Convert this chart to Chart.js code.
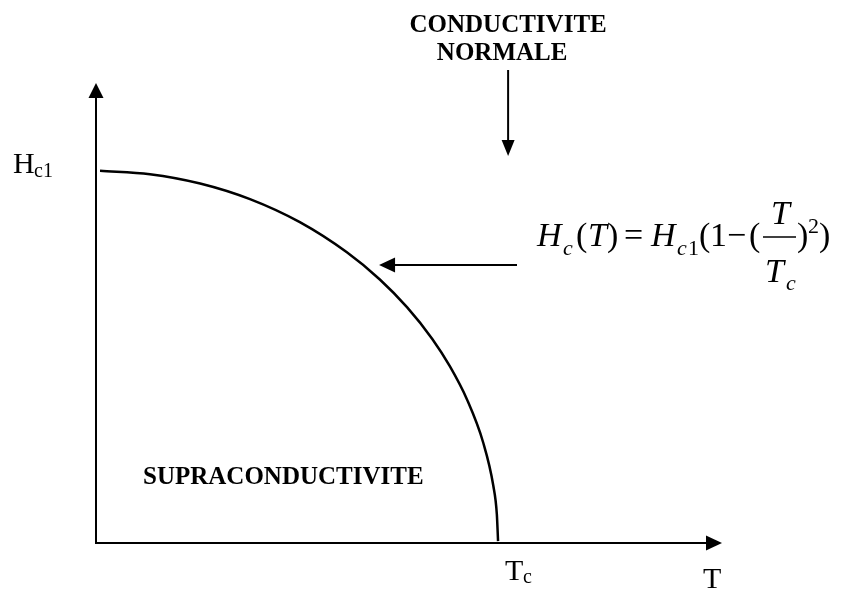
<!DOCTYPE html>
<html>
<head>
<meta charset="utf-8">
<script src="https://cdn.jsdelivr.net/npm/chart.js@4"></script>
<style>
    html, body { margin: 0; padding: 0; background: #fff; }
    #wrap { width: 841px; height: 589px; }
</style>
</head>
<body>
<div id="wrap"><canvas id="chart" width="841" height="589"></canvas></div>
<script>
// Curve H_c(T), normalised: T / Tc and H / Hc1
const tempT  = [0.01, 0.134, 0.259, 0.383, 0.507, 0.624, 0.706, 0.774, 0.836, 0.88, 0.923, 0.963, 0.988, 0.997, 1.0];
const fieldH = [1.0, 0.991, 0.966, 0.924, 0.862, 0.781, 0.708, 0.633, 0.549, 0.475, 0.385, 0.27, 0.155, 0.077, 0.005];

// Axis extents (arrow tips) and the two marked ticks
const axisMaxT = 1.557;
const axisMaxH = 1.236;
const tickT = 1;   // Tc
const tickH = 1;   // Hc1

const SERIF = '"Liberation Serif", "Times New Roman", serif';
const INK = '#000';

function arrowHead(ctx, x, y, dir, len, half) {
    // dir: 'up' | 'down' | 'left' | 'right'
    ctx.beginPath();
    if (dir === 'up') { ctx.moveTo(x, y); ctx.lineTo(x - half, y + len); ctx.lineTo(x + half, y + len); }
    if (dir === 'down') { ctx.moveTo(x, y); ctx.lineTo(x - half, y - len); ctx.lineTo(x + half, y - len); }
    if (dir === 'right') { ctx.moveTo(x, y); ctx.lineTo(x - len, y - half); ctx.lineTo(x - len, y + half); }
    if (dir === 'left') { ctx.moveTo(x, y); ctx.lineTo(x + len, y - half); ctx.lineTo(x + len, y + half); }
    ctx.closePath();
    ctx.fill();
}

function txt(ctx, s, x, y, font) {
    ctx.font = font;
    ctx.fillText(s, x, y);
}

const diagramPlugin = {
    id: 'diagram',
    afterDatasetsDraw(chart) {
        const ctx = chart.ctx;
        const xs = chart.scales.x, ys = chart.scales.y;
        const x0 = xs.getPixelForValue(0), y0 = ys.getPixelForValue(0);
        const xEnd = xs.getPixelForValue(axisMaxT), yEnd = ys.getPixelForValue(axisMaxH);
        ctx.save();
        ctx.fillStyle = INK;
        ctx.strokeStyle = INK;
        ctx.lineWidth = 2;
        ctx.textAlign = 'left';
        ctx.textBaseline = 'alphabetic';

        // axes with arrows
        ctx.beginPath();
        ctx.moveTo(x0, y0 + 1); ctx.lineTo(x0, yEnd + 10);
        ctx.moveTo(x0 - 1, y0); ctx.lineTo(xEnd - 10, y0);
        ctx.stroke();
        arrowHead(ctx, x0, yEnd, 'up', 15, 7.5);
        arrowHead(ctx, xEnd, y0, 'right', 16, 7.5);

        // tick labels
        const yH = ys.getPixelForValue(tickH);
        txt(ctx, 'H', 13, yH + 2, '30px ' + SERIF);
        txt(ctx, 'c1', 34, yH + 6, '20px ' + SERIF);
        const xT = xs.getPixelForValue(tickT);
        txt(ctx, 'T', xT + 7, y0 + 37, '30px ' + SERIF);
        txt(ctx, 'c', xT + 25, y0 + 40, '20px ' + SERIF);
        txt(ctx, 'T', xEnd - 19, y0 + 45, '30px ' + SERIF);

        // region labels
        ctx.textAlign = 'center';
        const xN = xs.getPixelForValue(1.025);
        txt(ctx, 'CONDUCTIVITE', xN, 32, 'bold 25px ' + SERIF);
        txt(ctx, 'NORMALE', xN - 6, 60, 'bold 25px ' + SERIF);
        ctx.textAlign = 'left';
        txt(ctx, 'SUPRACONDUCTIVITE', 143, 484, 'bold 25px ' + SERIF);

        // arrow down from "normal" label
        ctx.beginPath();
        ctx.moveTo(xN, 70); ctx.lineTo(xN, 145);
        ctx.stroke();
        arrowHead(ctx, xN, 156, 'down', 16, 6.5);

        // arrow pointing at the curve
        const ya = ys.getPixelForValue(0.747);
        const xa = xs.getPixelForValue(0.704);
        ctx.beginPath();
        ctx.moveTo(517, ya); ctx.lineTo(xa + 12, ya);
        ctx.stroke();
        arrowHead(ctx, xa, ya, 'left', 16, 7.5);

        // formula  H_c(T) = H_c1(1 - (T/T_c)^2)
        const b = 246, sb = 255;
        const I = 'italic 34px ' + SERIF, N = '34px ' + SERIF;
        const Is = 'italic 22px ' + SERIF, Ns = '22px ' + SERIF;
        txt(ctx, 'H', 537, b, I);
        txt(ctx, 'c', 563, sb, Is);
        txt(ctx, '(', 576, b, N);
        txt(ctx, 'T', 588, b, I);
        txt(ctx, ')', 607, b, N);
        txt(ctx, '=', 624, b, N);
        txt(ctx, 'H', 651, b, I);
        txt(ctx, 'c', 677, sb, Is);
        txt(ctx, '1', 688, sb, Ns);
        txt(ctx, '(', 699, b, N);
        txt(ctx, '1', 710, b, N);
        txt(ctx, '\u2212', 727, b, N);
        txt(ctx, '(', 749, b, N);
        ctx.lineWidth = 1.5;
        ctx.beginPath();
        ctx.moveTo(763, 237); ctx.lineTo(796, 237);
        ctx.stroke();
        txt(ctx, 'T', 771, 224, I);
        txt(ctx, 'T', 765, 282, I);
        txt(ctx, 'c', 786, 290, Is);
        txt(ctx, ')', 797, b, N);
        txt(ctx, '2', 808, 233, Ns);
        txt(ctx, ')', 819, b, N);

        ctx.restore();
    }
};

new Chart(document.getElementById('chart'), {
    type: 'scatter',
    data: {
        datasets: [{
            data: tempT.map((t, i) => ({ x: t, y: fieldH[i] })),
            showLine: true,
            borderColor: INK,
            borderWidth: 2.5,
            pointRadius: 0,
            cubicInterpolationMode: 'monotone',
            fill: false
        }]
    },
    options: {
        responsive: false,
        animation: false,
        layout: { padding: { left: 96, top: 83, right: 119, bottom: 46 } },
        scales: {
            x: { type: 'linear', min: 0, max: axisMaxT, display: false },
            y: { type: 'linear', min: 0, max: axisMaxH, display: false }
        },
        plugins: {
            legend: { display: false },
            tooltip: { enabled: false }
        }
    },
    plugins: [diagramPlugin]
});
</script>
</body>
</html>
